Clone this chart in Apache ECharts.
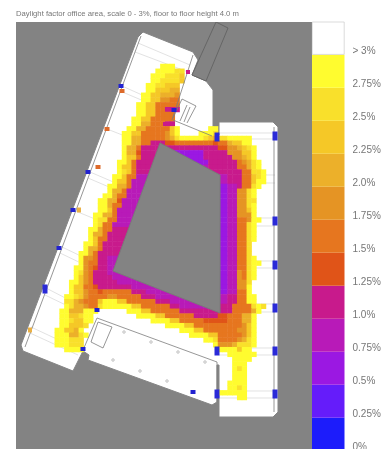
<!DOCTYPE html>
<html>
<head>
<meta charset="utf-8">
<style>
  html, body { margin: 0; padding: 0; background: #fff; }
  #chart { width: 385px; height: 449px; }
</style>
</head>
<body>
<div id="chart"></div>
<script src="https://cdn.jsdelivr.net/npm/echarts@6/dist/echarts.min.js"></script>
<script>
// scale, bottom band first
const bandColors = ['#1c1cfb', '#651cfa', '#9b18e2', '#b81ab8', '#c81a8c', '#e05418', '#e6761f', '#e59424', '#ecb02a', '#f5c827', '#f9e02b', '#fffc2f', '#ffffff']
const scaleLabels = ['0%', '0.25%', '0.5%', '0.75%', '1.0%', '1.25%', '1.5%', '1.75%', '2.0%', '2.25%', '2.5%', '2.75%', '> 3%']

// daylight cells, one string per row, "column:levels" (hex index into bandColors)
const heatRows = [
  '23:bbb',
  '22:bbbbaa',
  '21:bbbaaa9',
  '21:bbaaaa9',
  '20:bbaa999',
  '20:bb99988',
  '19:bb998887',
  '19:bb997766',
  '18:bb9966666',
  '18:bb9966444',
  '18:bb996666',
  '17:bb9966666',
  '17:bb8866644',
  '16:bb88666669b 33:bb',
  '15:bb996666679b 31:bbba',
  '15:bb88666667 25:8abbbbba98 35:aabbbbb',
  '15:bb886644455 26:66666666 34:5 35:66899bb',
  '15:b886444444 25:4444444444 35:557789ab',
  '15:b88544444 26:222222 32:444 35:4477799b',
  '15:b99644444 27:22222 32:444 35:4447789b',
  '14:bb9644444 29:2222 33:44 35:4444678ab',
  '14:b99644444 31:2344 35:4444668ab',
  '14:ba964444 33:44 35:4444466aab',
  '13:bb9663333 35:33444669ab',
  '13:b9963333 35:33444669bb',
  '12:bb8863333 35:2233466ab',
  '12:b8863333 35:223377ab',
  '11:bb8663333 35:223377ab',
  '10:bb8853333 35:223377aa',
  '10:bb8663333 35:223377ab',
  '10:bb9633333 35:2233779b',
  '9:bb8863333 35:2233777b',
  '9:baa663333 35:2233667bb',
  '9:ba6633333 35:223366ab',
  '8:bb8664444 35:223366ab',
  '8:b88644444 35:223366ab',
  '8:b9664444 35:223366ab',
  '7:bb9644444 35:223366a',
  '7:b8864444 35:223366a',
  '6:bb8644444 35:223366a',
  '6:b77644333 35:223366ab',
  '6:b76644333 35:223366abb',
  '5:bb765443333 35:223366ab',
  '5:ba7644433333 35:223376ab',
  '5:b9764444333333 35:223376ab',
  '4:bb9764444433333333 35:223377a',
  '4:b99665444444433333333 35:223377b',
  '4:b997665666666 17:4443333333 35:223366b',
  '3:bba976666 12:77666664443333333 35:334466bb',
  '3:aa876669bbb99 16:6666664443333333 35:334466bb',
  '3:ba88766abbb 14:bbb99666666 25:4433333344 35:4446666aba',
  '2:bb888bbb 16:bbb99666666 27:44444444 35:44466668b',
  '2:bb99abb 18:bbbb99666666 30:44444 35:5566688b',
  '2:bba99bb 21:bbbb9966666 32:555 35:5566688b',
  '2:bb999a 24:bbbb9966666 35:6666679b',
  '1:bb998b 27:bbb99666 35:6666779b',
  '1:bbb88ab 29:bbbb99 35:6666679b',
  '1:bbbaaa 32:bba 35:666678ab',
  '1:bbbaaa 34:b 35:7778aaab',
  '3:bbbb 35:bbbb9bb',
  '37:bbbbbb',
  '38:bbbb',
  '38:bbb',
  '38:bab',
  '38:bbb',
  '38:bbb',
  '37:bbbb',
  '37:bbab',
  '35:bbbbbb',
  '39:bb'
]
const heatColumns = 45

// floor plan outlines
const floorOutline = [[138, 37], [143, 32], [193, 52], [198, 60], [192, 75], [206, 81], [213, 90], [213, 135], [219, 135], [219, 122], [273, 122], [278, 127], [278, 412], [273, 417], [219, 417], [219, 365], [217, 365], [217, 402], [212, 405], [88, 360], [89, 355], [83, 351], [73, 371], [23, 351], [21, 345]]
const courtOutline = [[160, 143], [220, 175], [220, 313], [113, 271]]
const shaftOutline = [[216, 22], [228, 28], [206, 81], [192, 75]]

// dark walls and fittings
const wallLines = [
  [141, 36, 25, 347], [193, 55, 172, 120], [173, 120, 212, 136], [97, 318, 217, 362], [97, 318, 83, 350],
  [274, 127, 274, 412], [182, 99, 196, 106], [196, 106, 187, 123], [182, 99, 173, 118], [187, 105, 180, 121], [190, 107, 184, 122],
  [98, 322, 112, 327], [112, 327, 103, 348], [103, 348, 91, 342], [98, 322, 91, 342], [217, 362, 217, 402]
]
// room partitions
const partitionLines = [
  [138, 43, 190, 65], [135, 52, 188, 72], [122, 86, 160, 103], [120, 91, 158, 107], [107, 129, 130, 138],
  [90, 172, 118, 184], [88, 178, 116, 190], [73, 210, 95, 219], [62, 247, 85, 258], [60, 253, 85, 265],
  [46, 288, 75, 303], [45, 295, 72, 308], [31, 327, 80, 350], [30, 333, 78, 355],
  [219, 133, 275, 133], [219, 139, 275, 139], [219, 175, 275, 175], [219, 183, 275, 183], [219, 218, 275, 218], [219, 226, 275, 226],
  [219, 261, 275, 261], [219, 268, 275, 268], [219, 304, 275, 304], [219, 312, 275, 312], [219, 348, 275, 348], [219, 355, 275, 355],
  [219, 391, 275, 391], [219, 398, 275, 398]
]

// window openings and columns
const tallWindows = [[275, 136], [275, 221], [275, 265], [275, 308], [275, 351], [275, 394], [217, 351], [217, 394], [217, 137], [45, 289]]
const smallWindows = [[121, 86], [88, 172], [73, 210], [59, 248], [97, 310], [83, 349], [174, 110], [193, 392]]
const orangeWindows = [[122, 91], [107, 129], [98, 167]]
const paleWindows = [[79, 210], [30, 330]]
const magentaWindows = [[188, 72], [165, 124]]
const columnMarks = [[124, 332], [151, 342], [178, 352], [205, 362], [113, 360], [140, 371], [167, 381]]

const heatData = []
heatRows.forEach((row, rowIndex) => {
  row.split(' ').forEach((segment) => {
    const [start, levels] = segment.split(':')
    levels.split('').forEach((ch, i) => {
      heatData.push([Number(start) + i, rowIndex, parseInt(ch, 16)])
    })
  })
})

// filled outline in plan coordinates
function outlineSeries (points, fill, stroke, z) {
  return {
    type: 'custom',
    z,
    silent: true,
    clip: true,
    data: [0],
    renderItem (params, api) {
      return {
        type: 'polygon',
        shape: { points: points.map((p) => api.coord(p)) },
        style: { fill, stroke, lineWidth: 1 }
      }
    }
  }
}

// straight segments in plan coordinates
function segmentSeries (segments, stroke, lineWidth, z) {
  return {
    type: 'custom',
    z,
    silent: true,
    data: segments,
    encode: { x: [0, 2], y: [1, 3] },
    renderItem (params, api) {
      const a = api.coord([api.value(0), api.value(1)])
      const b = api.coord([api.value(2), api.value(3)])
      return {
        type: 'line',
        shape: { x1: a[0], y1: a[1], x2: b[0], y2: b[1] },
        style: { stroke, lineWidth }
      }
    }
  }
}

function markSeries (points, color, size, z) {
  return {
    type: 'scatter',
    z,
    silent: true,
    symbol: 'rect',
    symbolSize: size,
    itemStyle: { color, opacity: 1 },
    data: points
  }
}

const chartInstance = echarts.init(document.getElementById('chart'))

const option = {
  animation: false,
  backgroundColor: '#ffffff',
  title: {
    text: 'Daylight factor office area, scale 0 - 3%, floor to floor height 4.0 m',
    left: 16,
    top: 10,
    padding: 0,
    textStyle: { fontFamily: 'Liberation Sans', fontSize: 7.7, fontWeight: 'normal', color: '#777777' }
  },
  grid: [
    { left: 16, top: 22, width: 296, height: 427, show: true, borderWidth: 0, backgroundColor: '#838383', outerBoundsMode: 'none' },
    { left: 50, top: 64, width: 216, height: 336, outerBoundsMode: 'none' },
    { left: 312, top: 21.7, width: 32.5, height: 429, outerBoundsMode: 'none' }
  ],
  xAxis: [
    { type: 'value', gridIndex: 0, min: 16, max: 312, show: false },
    { type: 'category', gridIndex: 1, data: Array.from({ length: heatColumns }, (v, i) => i), show: false },
    { type: 'category', gridIndex: 2, data: ['scale'], show: false }
  ],
  yAxis: [
    { type: 'value', gridIndex: 0, min: 22, max: 449, inverse: true, show: false },
    { type: 'category', gridIndex: 1, data: heatRows.map((r, i) => i), inverse: true, show: false },
    {
      type: 'value',
      gridIndex: 2,
      position: 'right',
      min: 0,
      max: 13,
      interval: 1,
      splitLine: { show: false },
      axisLine: { show: false },
      axisTick: { show: false },
      axisLabel: {
        margin: 8,
        fontFamily: 'Liberation Sans',
        fontSize: 10,
        color: '#767676',
        verticalAlign: 'bottom',
        lineHeight: 7,
        formatter: (value) => scaleLabels[value] || ''
      }
    }
  ],
  visualMap: {
    type: 'piecewise',
    show: false,
    seriesIndex: 2,
    dimension: 2,
    pieces: bandColors.slice(0, 12).map((color, i) => ({ value: i, color }))
  },
  series: [
    outlineSeries(floorOutline, '#ffffff', '#858585', 1),
    segmentSeries(partitionLines, '#d6d6d6', 0.7, 2),
    {
      type: 'heatmap',
      xAxisIndex: 1,
      yAxisIndex: 1,
      z: 3,
      silent: true,
      progressive: 0,
      data: heatData
    },
    outlineSeries(courtOutline, '#838383', '#7a7a7a', 4),
    outlineSeries(shaftOutline, '#838383', '#666666', 4),
    segmentSeries(wallLines, '#7c7c7c', 0.8, 5),
    markSeries(tallWindows, '#2a2ad8', [5, 9], 6),
    markSeries(smallWindows, '#2222d0', [5, 4], 6),
    markSeries(orangeWindows, '#dd6a2a', [5, 4], 6),
    markSeries(paleWindows, '#eab044', [4, 5], 6),
    markSeries(magentaWindows, '#c81a8c', [4, 4], 6),
    {
      type: 'scatter',
      z: 6,
      silent: true,
      symbol: 'circle',
      symbolSize: 2.5,
      itemStyle: { color: '#ffffff', borderColor: '#999999', borderWidth: 0.6, opacity: 1 },
      data: columnMarks
    }
  ].concat(bandColors.map((color, i) => ({
    type: 'bar',
    xAxisIndex: 2,
    yAxisIndex: 2,
    stack: 'scale',
    barWidth: '100%',
    silent: true,
    itemStyle: i === 12 ? { color, borderColor: '#c4c4c4', borderWidth: 0.6 } : { color },
    data: [1]
  })))
}

chartInstance.setOption(option)
</script>
</body>
</html>
